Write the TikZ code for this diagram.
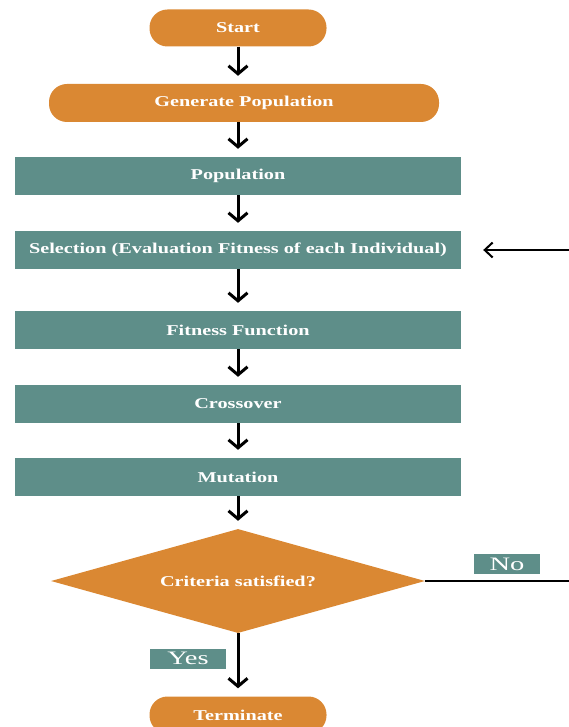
\documentclass[tikz,border=0pt]{standalone}
\usepackage{fontspec}
\setmainfont{Liberation Serif}
\newfontfamily\boxfont{Liberation Serif}[FakeStretch=1.35]
\newfontfamily\tagfont{Liberation Serif}[FakeStretch=1.5]
\usetikzlibrary{arrows.meta, positioning, shapes.geometric}
\definecolor{gaorange}{HTML}{DA8833}
\definecolor{gateal}{HTML}{5E8E89}

\begin{document}
\begin{tikzpicture}[
    x=1pt, y=-1pt,
    >={Straight Barb[length=8pt,width=19pt]},
    terminal/.style={
        fill=gaorange, rounded corners=18pt, minimum width=177pt,
        minimum height=37pt, inner sep=0pt, text=white,
        font=\boxfont\bfseries\fontsize{15}{18}\selectfont
    },
    stepbox/.style={
        fill=gateal, minimum width=446pt, minimum height=38pt,
        inner sep=0pt, text=white,
        font=\boxfont\bfseries\fontsize{15}{18}\selectfont
    },
    decision/.style={
        diamond, aspect=3.6, fill=gaorange, minimum width=374pt,
        minimum height=104pt, inner sep=0pt, text=white,
        font=\boxfont\bfseries\fontsize{15}{18}\selectfont
    },
    tag/.style={
        fill=gateal, text=white, inner sep=0pt, minimum height=20pt,
        font=\tagfont\fontsize{19}{20}\selectfont
    },
    flow/.style={->, line width=3pt, shorten >=8pt},
    loopline/.style={line width=2pt},
]

\useasboundingbox (0,0) rectangle (569,727);

% main column
\node[terminal] (start) at (238,28) {Start};
\node[terminal, minimum width=390pt, minimum height=38pt] (genpop) at (244,103) {Generate Population};
\node[stepbox] (pop) at (238,176) {Population};
\node[stepbox] (select) at (238,250) {Selection (Evaluation Fitness of each Individual)};
\node[stepbox] (fitness) at (238,330) {Fitness Function};
\node[stepbox] (cross) at (238,404) {Crossover};
\node[stepbox] (mutate) at (238,477) {Mutation};
\node[decision] (check) at (238,581) {Criteria satisfied?};
\node[terminal] (term) at (238,715) {Terminate};

% yes / no tags
\node[tag, minimum width=76pt] (yes) at (188,658.5) {Yes};
\node[tag, minimum width=66pt] (no) at (507,564) {No};

% loop back ends (outside the frame)
\coordinate (loopout) at (569,581);
\coordinate (loopin) at (569,250);

% connectors
\draw[flow] (start) -- (start |- genpop.north);
\draw[flow] (start |- genpop.south) -- (pop);
\draw[flow] (pop) -- (select);
\draw[flow] (select) -- (fitness);
\draw[flow] (fitness) -- (cross);
\draw[flow] (cross) -- (mutate);
\draw[flow] (mutate) -- (check);
\draw[flow] (check) -- (term);

\draw[loopline] (check.east) -- (loopout);
\draw[loopline, ->, >={Straight Barb[length=8pt,width=15pt]}, shorten >=22pt] (loopin) -- (select.east);

\end{tikzpicture}
\end{document}
